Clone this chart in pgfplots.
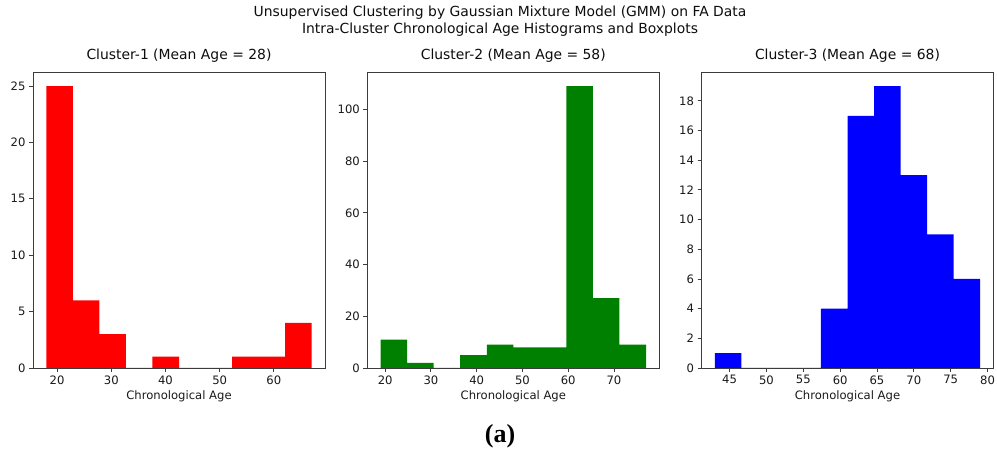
\documentclass[border=0pt]{standalone}
\usepackage{fontspec}
\setmainfont{DejaVu Sans}
\newfontfamily\capfont{Liberation Serif}
\usepackage{pgfplots}
\pgfplotsset{compat=1.18}

\definecolor{mplgreen}{RGB}{0,128,0}
\definecolor{spine}{RGB}{60,60,60}

\pgfplotsset{
  hist/.style={
    scale only axis,
    width=292pt, height=296pt,
    anchor=south west,
    ymin=0,
    axis on top,
    axis line style={spine, line width=0.9pt},
    tick align=outside,
    xtick pos=lower, ytick pos=left,
    major tick length=4pt,
    tick style={spine, line width=0.9pt},
    /pgf/number format/assume math mode=true,
    ticklabel style={font=\fontsize{11.6}{13}\selectfont, text=black!90},
    xlabel={Chronological Age},
    xlabel style={font=\fontsize{11.6}{13}\selectfont, text=black!90,
      at={(axis description cs:0.5,0)}, anchor=base, yshift=-32pt},
    title style={font=\fontsize{13.9}{16}\selectfont, text=black!95,
      at={(axis description cs:0.5,1)}, anchor=base, yshift=6pt},
  }
}

\begin{document}
\begin{tikzpicture}
\useasboundingbox (0,0) rectangle (997pt,454pt);

% Figure title
\node[anchor=base, font=\fontsize{13.9}{16}\selectfont, text=black!95, inner sep=0pt]
  at (500pt,437.3pt) {Unsupervised Clustering by Gaussian Mixture Model (GMM) on FA Data};
\node[anchor=base, font=\fontsize{13.9}{16}\selectfont, text=black!95, inner sep=0pt]
  at (500pt,420.7pt) {Intra-Cluster Chronological Age Histograms and Boxplots};

% Cluster 1
\begin{axis}[hist, at={(33pt,86pt)},
  title={Cluster-1 (Mean Age = 28)},
  xmin=15.55, xmax=69.45, ymax=26.25,
  xtick={20,30,40,50,60}, ytick={0,5,10,15,20,25}]
\addplot[fill=red, draw=none, const plot] coordinates {
  (18.0,25) (22.9,6) (27.8,3) (32.7,0) (37.6,1) (42.5,0)
  (47.4,0) (52.3,1) (57.2,1) (62.1,4) (67.0,4)
} \closedcycle;
\end{axis}

% Cluster 2
\begin{axis}[hist, at={(367.3pt,86pt)},
  title={Cluster-2 (Mean Age = 58)},
  xmin=16.1, xmax=79.9, ymax=114.45,
  xtick={20,30,40,50,60,70}, ytick={0,20,40,60,80,100}]
\addplot[fill=mplgreen, draw=none, const plot] coordinates {
  (19.0,11) (24.8,2) (30.6,0) (36.4,5) (42.2,9) (48.0,8)
  (53.8,8) (59.6,109) (65.4,27) (71.2,9) (77.0,9)
} \closedcycle;
\end{axis}

% Cluster 3
\begin{axis}[hist, at={(701.5pt,86pt)},
  title={Cluster-3 (Mean Age = 68)},
  xmin=41.2, xmax=80.8, ymax=19.95,
  xtick={45,50,55,60,65,70,75,80}, ytick={0,2,4,6,8,10,12,14,16,18}]
\addplot[fill=blue, draw=none, const plot] coordinates {
  (43.0,1) (46.6,0) (50.2,0) (53.8,0) (57.4,4) (61.0,17)
  (64.6,19) (68.2,13) (71.8,9) (75.4,6) (79.0,6)
} \closedcycle;
\end{axis}

% Panel caption
\node[anchor=base, inner sep=0pt, font={\capfont\bfseries\fontsize{26}{30}\selectfont}]
  at (500pt,11pt) {(a)};
\end{tikzpicture}
\end{document}
